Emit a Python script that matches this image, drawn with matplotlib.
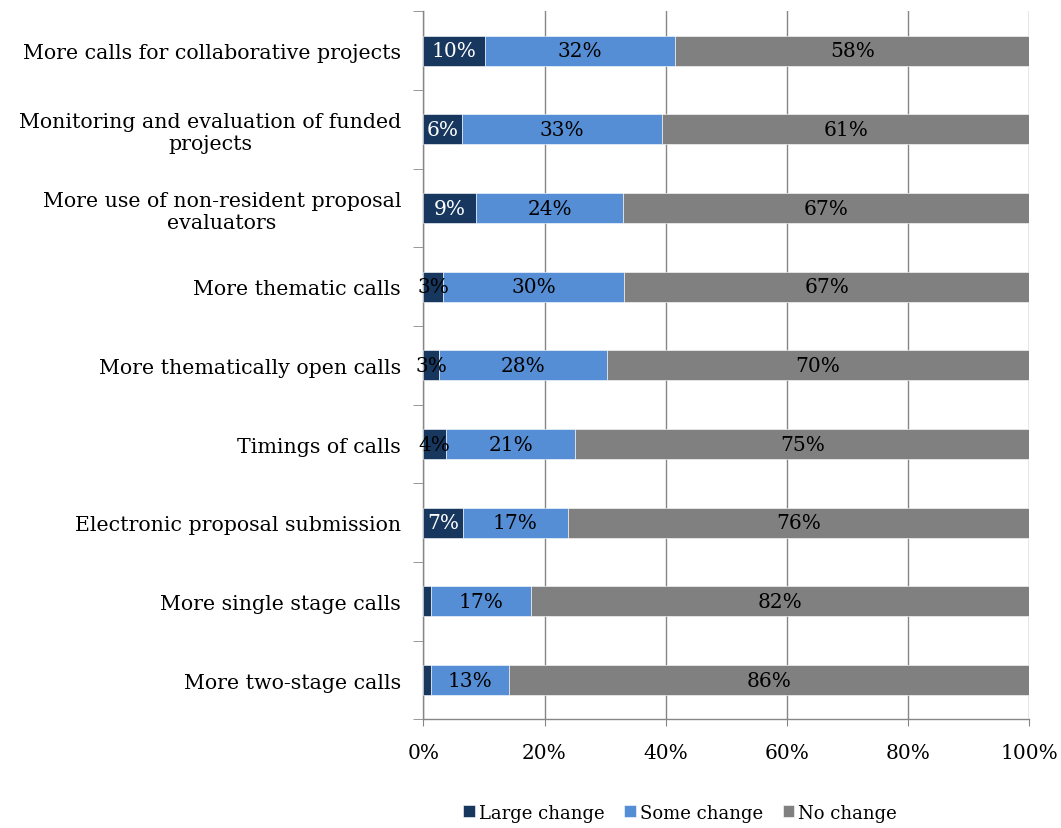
import matplotlib
matplotlib.use("Agg")
import matplotlib.pyplot as plt
import numpy as np

categories = [
    "More calls for collaborative projects",
    "Monitoring and evaluation of funded\nprojects",
    "More use of non-resident proposal\nevaluators",
    "More thematic calls",
    "More thematically open calls",
    "Timings of calls",
    "Electronic proposal submission",
    "More single stage calls",
    "More two-stage calls",
]
large_change = [10.1, 6.4, 8.7, 3.3, 2.6, 3.7, 6.6, 1.2, 1.2]
some_change = [31.5, 33.0, 24.3, 29.9, 27.7, 21.4, 17.2, 16.6, 13.0]
no_change = [58.4, 60.6, 67.0, 66.8, 69.7, 74.9, 76.2, 82.2, 85.8]
series_names = ["Large change", "Some change", "No change"]
colors = ["#17375E", "#558ED5", "#808080"]
x_ticks = [0, 20, 40, 60, 80, 100]

plt.rcParams["font.family"] = ["DejaVu Serif"]

fig = plt.figure(figsize=(10.61, 8.29), dpi=100)
ax = fig.add_axes([0.399, 0.131, 0.571, 0.854])

n = len(categories)
y = np.arange(n)[::-1]
series = [large_change, some_change, no_change]
left = np.zeros(n)
for vals, name, col in zip(series, series_names, colors):
    vals = np.array(vals)
    ax.barh(y, vals, left=left, height=0.38, color=col, label=name,
            edgecolor="white", linewidth=0.4, zorder=3)
    for yi, l, v in zip(y, left, vals):
        if v < 2:
            continue
        txt_col = "white" if (col == colors[0] and v >= 5) else "black"
        ax.text(l + v / 2, yi, f"{round(v):.0f}%", ha="center", va="center",
                fontsize=14.5, color=txt_col, zorder=4)
    left = left + vals

ax.set_xlim(0, 100)
ax.set_ylim(-0.5, n - 0.5)
ax.set_xticks(x_ticks)
ax.set_xticklabels([f"{t}%" for t in x_ticks], fontsize=14.5)
ax.set_yticks(y)
ax.set_yticklabels(categories, fontsize=14.8, ha="right", multialignment="center")
ax.tick_params(axis="y", length=0, pad=16)
ax.set_yticks(np.arange(-0.5, n, 1), minor=True)
ax.tick_params(axis="y", which="minor", length=7, color="#868686", direction="out")
ax.tick_params(axis="x", length=5, color="#868686", pad=12)
ax.grid(axis="x", color="#868686", linewidth=1, zorder=0)
for s in ["top", "right"]:
    ax.spines[s].set_visible(False)
for s in ["left", "bottom"]:
    ax.spines[s].set_color("#868686")
    ax.spines[s].set_linewidth(1)

fig.legend(loc="lower center", bbox_to_anchor=(0.641, -0.012), ncol=3, frameon=False,
           fontsize=13, handlelength=0.65, handleheight=0.65, handletextpad=0.2,
           columnspacing=1.1)

fig.savefig("out.png", dpi=100)
